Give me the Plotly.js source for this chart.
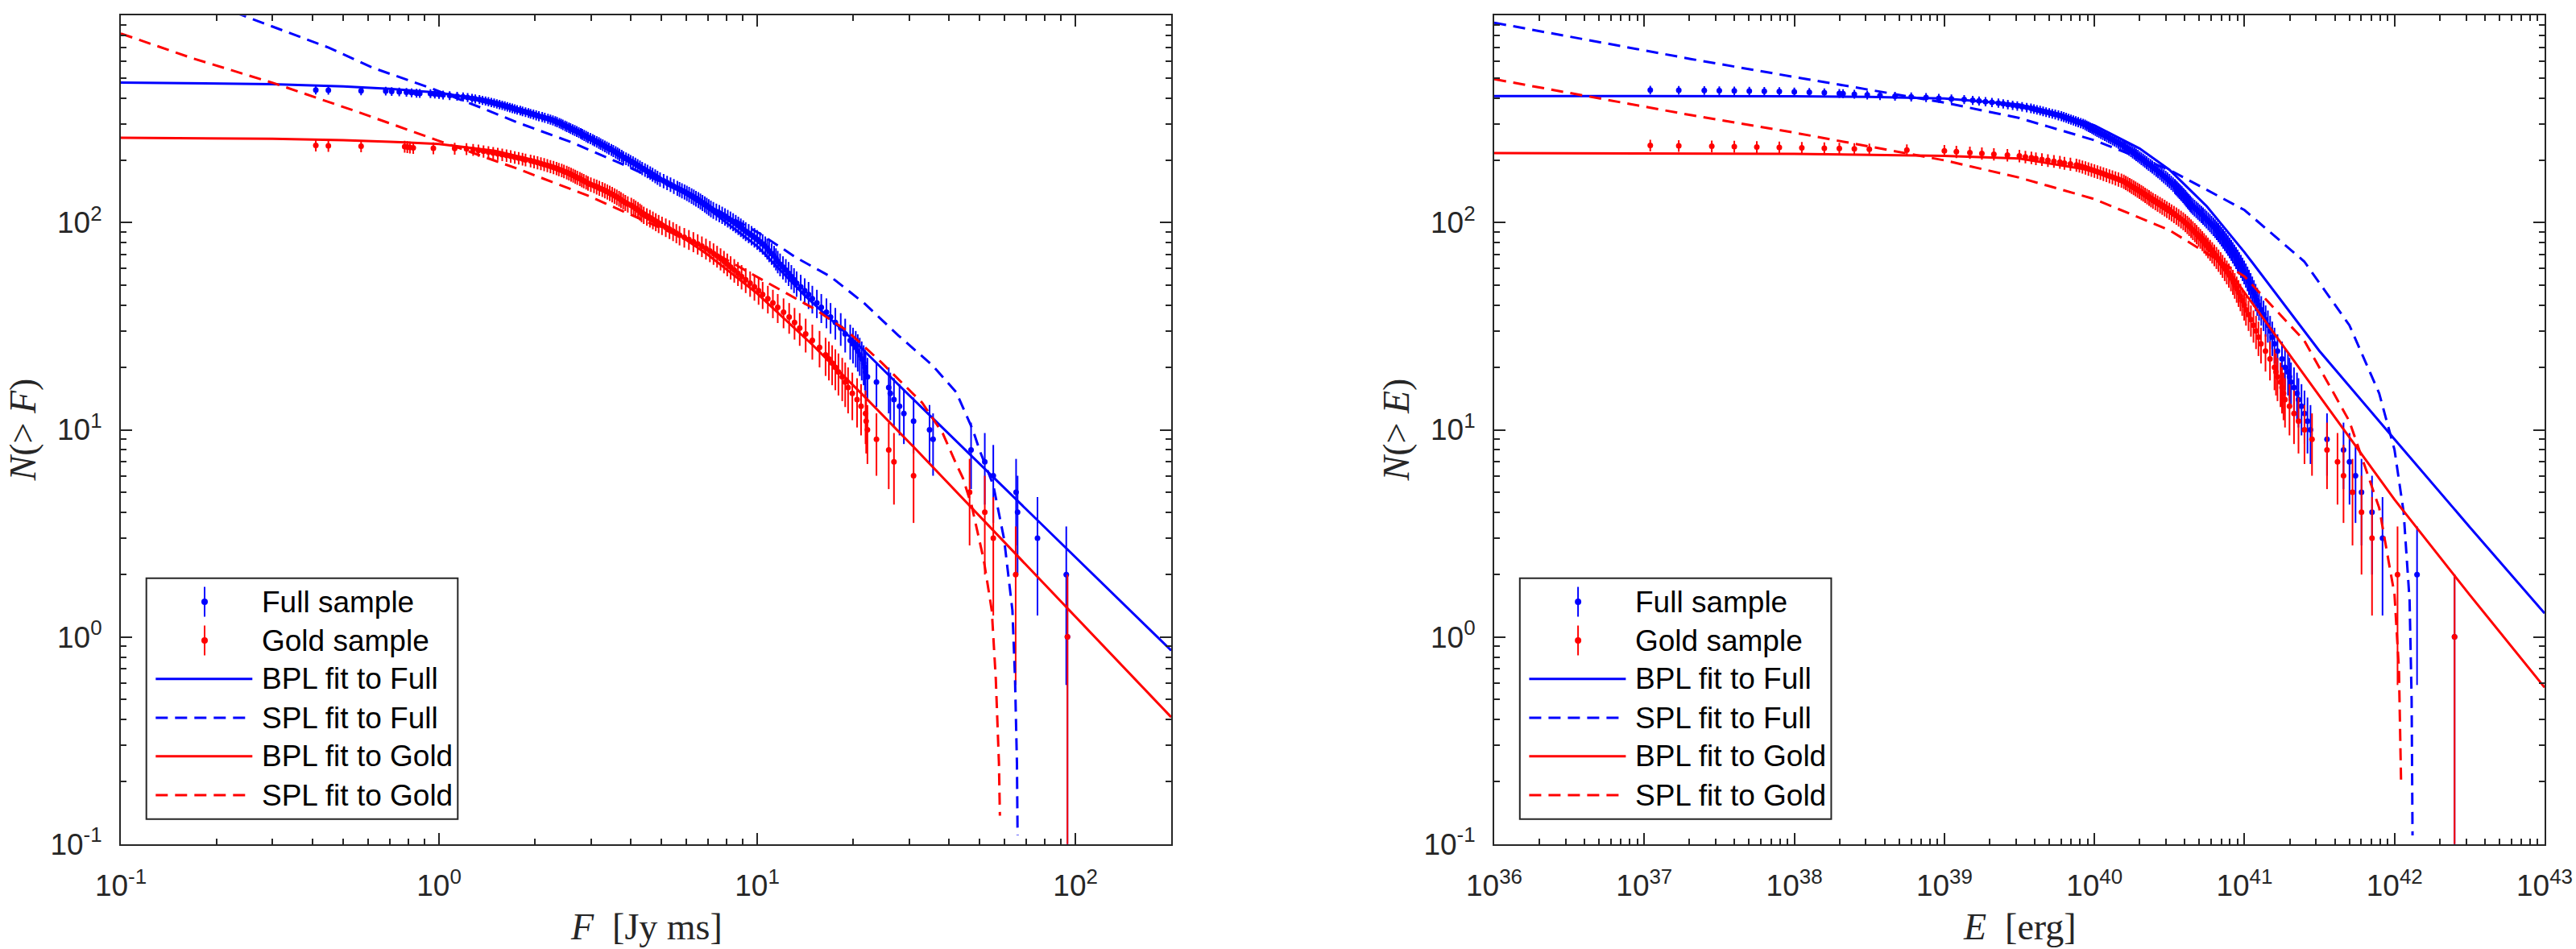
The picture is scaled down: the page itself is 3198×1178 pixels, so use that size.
<!DOCTYPE html>
<html>
<head>
<meta charset="utf-8">
<script src="https://cdn.plot.ly/plotly-3.0.1.min.js"></script>
<style>
  html, body { margin: 0; padding: 0; background: #ffffff; }
  #chart { width: 3198px; height: 1178px; }
</style>
</head>
<body>
<div id="chart"></div>
<script>
// ---------- Cumulative burst counts N(>F) versus fluence F (Jy ms) ----------
const fluFull = [
  0.41, 0.449, 0.569, 0.68, 0.71, 0.75, 0.79, 0.82, 0.85, 0.87, 0.94, 0.97, 1.0,
  1.03, 1.08, 1.14, 1.19, 1.23, 1.27, 1.30, 1.34,
  1.37, 1.40, 1.43, 1.46, 1.49, 1.52, 1.55, 1.58, 1.61, 1.64, 1.67, 1.70, 1.73,
  1.76, 1.80, 1.83, 1.87, 1.91, 1.94, 1.98, 2.02, 2.06, 2.11, 2.15, 2.20, 2.24,
  2.28, 2.32, 2.35, 2.39, 2.42, 2.45, 2.49, 2.52, 2.56,
  2.59, 2.63, 2.67, 2.71, 2.75, 2.79, 2.82, 2.86, 2.90,
  2.94, 2.99, 3.04, 3.08, 3.13, 3.18, 3.22, 3.27, 3.32,
  3.37, 3.42, 3.48, 3.53, 3.59, 3.64, 3.69, 3.75, 3.80,
  3.87, 3.94, 4.00, 4.07, 4.14, 4.21, 4.28, 4.35,
  4.44, 4.52, 4.61, 4.69, 4.78, 4.86, 4.95, 5.08, 5.21, 5.34, 5.47, 5.61,
  5.70, 5.80, 5.91, 6.01, 6.11, 6.22, 6.32, 6.42, 6.53, 6.63, 6.73, 6.84, 6.94, 7.04, 7.15,
  7.28, 7.44, 7.60, 7.76, 7.92, 8.08, 8.24, 8.40, 8.56, 8.72, 8.88, 9.04, 9.20,
  9.40, 9.60, 9.80, 10.0, 10.2, 10.4, 10.6, 10.75, 10.9, 11.1, 11.3, 11.45, 11.6, 11.8,
  12.05, 12.3, 12.55, 12.8, 13.05, 13.3, 13.7, 14.1, 14.5, 14.9, 15.4, 15.9, 16.5, 17.0,
  17.6, 18.3, 18.9, 19.6, 20.0, 20.4, 20.7,
  21.0, 21.3, 21.6, 21.8, 21.9, 22.2, 23.7, 25.9, 26.2, 26.9, 28.0, 28.9, 31.0, 34.8, 35.7,
  47.0, 51.9, 55.2, 65.1, 65.8, 76.0, 93.6, 94.4
];
const cntFullF = [
  437, 436, 433, 432, 430, 428, 426, 424, 422, 421, 420, 418, 416,
  414, 411, 408, 405, 402, 399, 396, 393,
  390, 387, 384, 381, 378, 375, 372, 369, 366, 363, 360, 357, 354,
  351, 348, 345, 342, 339, 336, 333, 330, 327, 324, 321, 318, 315,
  312, 309, 306, 303, 300, 297, 294, 291, 288,
  285, 282, 279, 276, 273, 270, 267, 264, 261,
  258, 255, 252, 249, 246, 243, 240, 237, 234,
  231, 228, 225, 222, 219, 216, 213, 210, 207,
  204, 201, 198, 195, 192, 189, 186, 183,
  180, 177, 174, 171, 168, 165, 162, 159, 156, 153, 150, 147,
  145, 143, 141, 139, 137, 135, 133, 131, 129, 127, 125, 123, 121, 119, 117,
  115, 113, 111, 109, 107, 105, 103, 101, 99, 97, 95, 93, 91,
  89, 87, 85, 83, 81, 79, 77, 75, 73, 71, 69, 67, 65, 63,
  61, 59, 57, 55, 53, 51, 49, 47, 45, 43, 41, 39, 37, 35,
  33, 31, 29, 27, 26, 25, 24,
  23, 22, 21, 20, 19, 18, 17, 16, 15, 14, 13, 12, 11, 10, 9,
  8, 7, 6, 5, 4, 3, 2, 1
];
const fluGold = [
  0.41, 0.449, 0.569, 0.78, 0.795, 0.81, 0.83, 0.96, 1.12, 1.22,
  1.28, 1.33, 1.38, 1.43, 1.48, 1.53, 1.58, 1.63, 1.68, 1.73, 1.78, 1.83, 1.87, 1.94, 1.99,
  2.04, 2.09, 2.14, 2.19, 2.24, 2.29, 2.34, 2.38, 2.43, 2.47, 2.52, 2.56, 2.60, 2.64, 2.68,
  2.72, 2.77, 2.81, 2.85, 2.90, 2.94, 3.00, 3.07, 3.13, 3.19, 3.26, 3.32, 3.38, 3.44, 3.50,
  3.56, 3.62, 3.68, 3.73, 3.79, 3.85, 3.92, 4.02, 4.09, 4.15, 4.22, 4.28, 4.33, 4.40, 4.50,
  4.60, 4.70, 4.80, 4.90, 5.02, 5.16, 5.30, 5.44, 5.57, 5.70, 5.90, 6.10, 6.30, 6.50, 6.70,
  6.90, 7.10, 7.29, 7.48, 7.67, 7.86, 8.05, 8.25, 8.47, 8.70, 8.93, 9.20, 9.50, 9.80, 10.1,
  10.4, 10.8, 11.2, 11.6, 12.1, 12.6, 13.1, 13.6, 14.2, 14.9, 15.7, 16.4,
  16.8, 17.2, 17.6, 18.0, 18.5, 18.9, 19.3, 19.9, 20.6, 21.2, 21.9, 22.0, 22.2,
  23.7, 25.9, 26.9, 31.0, 46.5, 51.9, 55.2, 64.9, 94.4
];
const cntGoldF = [
  236, 235, 234, 233, 232, 231, 230, 229, 228, 227,
  225, 223, 221, 219, 217, 215, 213, 211, 209, 207, 205, 203, 201, 199, 197,
  195, 193, 191, 189, 187, 185, 183, 181, 179, 177, 175, 173, 171, 169, 167,
  165, 163, 161, 159, 157, 155, 153, 151, 149, 147, 145, 143, 141, 139, 137,
  135, 133, 131, 129, 127, 125, 123, 121, 119, 117, 115, 113, 111, 109, 107,
  105, 103, 101, 99, 97, 95, 93, 91, 89, 87, 85, 83, 81, 79, 77,
  75, 73, 71, 69, 67, 65, 63, 61, 59, 57, 55, 53, 51, 49, 47,
  45, 43, 41, 39, 37, 35, 33, 31, 29, 27, 25, 23,
  22, 21, 20, 19, 18, 17, 16, 15, 14, 13, 12, 11, 10,
  9, 8, 7, 6, 5, 4, 3, 2, 1
];

// Fitted models on the fluence panel
const bplFullF_x = [0.1, 0.2, 0.3, 0.5, 0.7, 1, 1.5, 2, 3, 4, 5, 7, 10, 14, 20, 30, 50, 100, 200];
const bplFullF_y = [475, 471, 466, 455, 443, 424, 384, 338, 258, 202, 163, 117, 77, 45, 27.2, 14.7, 6.85, 2.42, 0.86];
const splFullF_x = [0.2, 0.3, 0.45, 0.618, 0.937, 1.35, 1.75, 2.58, 3.82, 4.95, 7, 10.2, 13.3, 17, 21.7, 27.8, 35.5, 42.2, 45.4, 47.6, 50.1, 55.2, 59.7, 63.4, 64.6, 65.5, 65.8];
const splFullF_y = [1117, 882, 700, 560, 448, 360, 306, 246, 190, 158, 122, 88.5, 67.6, 54.9, 40.8, 28.5, 20.5, 15.2, 11.8, 10, 7.9, 5.4, 2.96, 1.34, 0.63, 0.246, 0.11];
const bplGoldF_x = [0.1, 0.2, 0.3, 0.5, 0.7, 1, 1.5, 2, 3, 4, 5, 7, 10, 15, 22, 31.4, 46.5, 94.4, 200];
const bplGoldF_y = [257, 256, 254, 250, 246, 240, 222, 200, 154, 123, 100, 70, 45.5, 25.5, 14.2, 8.1, 4.31, 1.37, 0.41];
const splGoldF_x = [0.1, 0.168, 0.306, 0.557, 0.986, 1.75, 2.94, 3.82, 5.5, 7.5, 11.2, 15.1, 19.2, 24.6, 33, 38.3, 42.1, 44.3, 47.2, 51.5, 54.6, 56.2, 57.5, 57.9];
const splGoldF_y = [819, 622, 469, 342, 250, 183, 135, 113, 88, 70, 49.5, 38.4, 30, 21.1, 13.5, 9.6, 6.9, 5.85, 4.3, 2.36, 1.34, 0.63, 0.246, 0.137];

// ---------- Cumulative burst counts N(>E) versus energy E ----------
// burst energies are listed as log10(E / erg)
const logEFull = [
  37.04, 37.23, 37.40, 37.50, 37.60, 37.70, 37.80, 37.90, 38.00, 38.10, 38.20, 38.30,
  38.325, 38.40, 38.486, 38.571, 38.671, 38.779, 38.878, 38.963, 39.047, 39.132,
  39.189, 39.231, 39.274, 39.317, 39.36, 39.392, 39.423, 39.455, 39.486, 39.518,
  39.549, 39.577, 39.597, 39.617, 39.638, 39.658, 39.678, 39.699, 39.719, 39.739,
  39.760, 39.78, 39.796, 39.812, 39.828, 39.844, 39.860, 39.876, 39.892, 39.909,
  39.925, 39.938, 39.949, 39.961, 39.972, 39.984, 39.995, 40.007, 40.018, 40.03,
  40.043, 40.056, 40.069, 40.082, 40.095, 40.108, 40.121, 40.134, 40.147, 40.160,
  40.173, 40.186, 40.198, 40.209, 40.221, 40.232, 40.244, 40.255, 40.267, 40.278,
  40.290, 40.302, 40.313, 40.325, 40.336, 40.348, 40.361, 40.374, 40.386, 40.399,
  40.412, 40.424, 40.437, 40.449, 40.462, 40.475, 40.487, 40.50, 40.512, 40.524,
  40.536,
  40.543, 40.551, 40.559, 40.567, 40.575, 40.583, 40.591, 40.599, 40.607, 40.614,
  40.622, 40.630, 40.638, 40.646, 40.656, 40.667, 40.679, 40.690, 40.701, 40.713,
  40.724, 40.736, 40.747, 40.759, 40.770, 40.781, 40.793, 40.804, 40.815, 40.826,
  40.837, 40.848, 40.858, 40.869, 40.880, 40.890, 40.901, 40.912, 40.922, 40.933,
  40.944, 40.955, 40.965, 40.976, 40.987, 40.998, 41.009, 41.020, 41.030, 41.041,
  41.052, 41.063, 41.074, 41.085, 41.097, 41.112, 41.127, 41.141, 41.156, 41.171,
  41.185, 41.20,
  41.22, 41.25, 41.27, 41.29, 41.30, 41.31, 41.33, 41.35, 41.36, 41.38, 41.40,
  41.42, 41.44, 41.55, 41.66, 41.70, 41.74, 41.78, 41.85, 41.92, 42.15, 42.40
];
const cntFullE = [
  437, 436, 435, 434, 433, 432, 431, 430, 428, 426, 424, 421,
  420, 417, 414, 411, 408, 405, 402, 399, 396, 393,
  390, 387, 384, 381, 378, 375, 372, 369, 366, 363,
  360, 357, 354, 351, 348, 345, 342, 339, 336, 333,
  330, 327, 324, 321, 318, 315, 312, 309, 306, 303,
  300, 297, 294, 291, 288, 285, 282, 279, 276, 273,
  270, 267, 264, 261, 258, 255, 252, 249, 246, 243,
  240, 237, 234, 231, 228, 225, 222, 219, 216, 213,
  210, 207, 204, 201, 198, 195, 192, 189, 186, 183,
  180, 177, 174, 171, 168, 165, 162, 159, 156, 153,
  150,
  148, 146, 144, 142, 140, 138, 136, 134, 132, 130,
  128, 126, 124, 122, 120, 118, 116, 114, 112, 110,
  108, 106, 104, 102, 100, 98, 96, 94, 92, 90,
  88, 86, 84, 82, 80, 78, 76, 74, 72, 70,
  68, 66, 64, 62, 60, 58, 56, 54, 52, 50,
  48, 46, 44, 42, 40, 38, 36, 34, 32, 30,
  28, 26,
  24, 22, 20, 19, 18, 17, 16, 15, 14, 13, 12,
  11, 10, 9, 8, 7, 6, 5, 4, 3, 2, 1
];
const logEGold = [
  37.04, 37.23, 37.45, 37.60, 37.75, 37.90, 38.05, 38.20, 38.30, 38.40,
  38.5, 38.75, 39.0, 39.08, 39.17, 39.25, 39.33, 39.42, 39.5, 39.54,
  39.58, 39.61, 39.65, 39.69, 39.73, 39.77, 39.80, 39.84, 39.88, 39.90,
  39.92, 39.94, 39.96, 39.98, 40.00, 40.02, 40.04, 40.06, 40.08, 40.10,
  40.12, 40.14, 40.16, 40.18, 40.196, 40.209, 40.222, 40.235, 40.248, 40.261,
  40.274, 40.287, 40.300, 40.313, 40.325, 40.338, 40.351, 40.364, 40.377, 40.39,
  40.406, 40.421, 40.437, 40.452, 40.468, 40.483, 40.499, 40.514, 40.530, 40.546,
  40.561, 40.577, 40.592, 40.606, 40.619, 40.631, 40.644, 40.656, 40.669, 40.681,
  40.694, 40.706, 40.719, 40.731, 40.744, 40.757, 40.771, 40.785, 40.799, 40.813,
  40.827, 40.841, 40.854, 40.868, 40.882, 40.896, 40.91, 40.923, 40.935, 40.948,
  40.960, 40.973, 40.985, 40.998, 41.01, 41.027, 41.043, 41.06, 41.077, 41.093,
  41.11,
  41.14, 41.17, 41.20, 41.21, 41.22, 41.24, 41.25, 41.26, 41.27, 41.30, 41.33,
  41.36, 41.40, 41.45, 41.55, 41.62, 41.66, 41.72, 41.78, 41.85, 42.02, 42.40
];
const cntGoldE = [
  236, 235, 234, 233, 232, 231, 230, 229, 228, 227,
  226, 224, 222, 220, 218, 216, 214, 212, 210, 208,
  206, 204, 202, 200, 198, 196, 194, 192, 190, 188,
  186, 184, 182, 180, 178, 176, 174, 172, 170, 168,
  166, 164, 162, 160, 158, 156, 154, 152, 150, 148,
  146, 144, 142, 140, 138, 136, 134, 132, 130, 128,
  126, 124, 122, 120, 118, 116, 114, 112, 110, 108,
  106, 104, 102, 100, 98, 96, 94, 92, 90, 88,
  86, 84, 82, 80, 78, 76, 74, 72, 70, 68,
  66, 64, 62, 60, 58, 56, 54, 52, 50, 48,
  46, 44, 42, 40, 38, 36, 34, 32, 30, 28,
  26,
  24, 22, 20, 19, 18, 17, 16, 15, 14, 13, 12,
  11, 10, 9, 8, 7, 6, 5, 4, 3, 2, 1
];

// Fitted models on the energy panel (E in erg)
const bplFullE_x = [1e36, 1e37, 1e38, 3.16e38, 1e39, 3.16e39, 6.3e39, 1e40, 2e40, 3.16e40, 5.6e40, 1e41, 3.16e41, 1e42, 3.16e42, 1e43];
const bplFullE_y = [409, 409, 408, 405, 398, 372, 330, 295, 228, 180, 120, 72, 24, 9.0, 3.4, 1.3];
const splFullE_x = [1e36, 2.07e37, 1e38, 1e39, 3.16e39, 1e40, 3.16e40, 1e41, 2.5e41, 5e41, 7.9e41, 1e42, 1.15e42, 1.26e42, 1.3e42, 1.318e42];
const splFullE_y = [923, 616, 505, 380, 320, 250, 180, 115, 65, 32, 15, 8, 4, 1.5, 0.5, 0.11];
const bplGoldE_x = [1e36, 1e38, 1e39, 3.16e39, 1e40, 2e40, 3.16e40, 5.6e40, 1e41, 3.16e41, 1e42, 3.16e42, 1e43];
const bplGoldE_y = [217, 215, 210, 204, 178, 145, 118, 82, 46, 14.5, 4.6, 1.6, 0.57];
const splGoldE_x = [1e36, 2.07e37, 1e38, 1e39, 3.16e39, 1e40, 3.16e40, 1e41, 2.5e41, 5e41, 7.9e41, 1e42, 1.07e42, 1.107e42];
const splGoldE_y = [493, 330, 272, 200, 165, 130, 92, 55, 27, 11, 4.2, 1.6, 0.7, 0.189];

// ---------- Styling ----------
const AXC = '#262626';
const BLUE = '#0000ff';
const RED = '#ff0000';
const SANS = 'Liberation Sans, Arial, Helvetica, sans-serif';
const SERIF = 'Liberation Serif, Times New Roman, serif';
const DASH = '15px,9px';
const W = 3198, H = 1178;
const px = v => v / W;           // pixel column -> paper x
const py = v => (H - v) / H;     // pixel row -> paper y

function powLabels(lo, hi) {
  const vals = [], text = [];
  for (let p = lo; p <= hi; p++) {
    vals.push(Math.pow(10, p));
    text.push('10<sup>' + p + '</sup>');
  }
  return { vals, text };
}

function logAxis(range, domain, anchor, labels, standoff) {
  return {
    type: 'log', range, domain, anchor,
    showline: true, linecolor: AXC, linewidth: 2, mirror: 'ticks',
    ticks: 'inside', ticklen: 14, tickwidth: 2, tickcolor: AXC,
    tickmode: 'array', tickvals: labels.vals, ticktext: labels.text,
    ticklabelstandoff: standoff,
    minor: { ticks: 'inside', ticklen: 7, tickwidth: 2, tickcolor: AXC, dtick: 'D1', showgrid: false },
    showgrid: false, zeroline: false,
    tickfont: { family: SANS, size: 37, color: AXC }
  };
}

function errTrace(x, n, color, name, xa, ya) {
  return {
    type: 'scatter', mode: 'markers', name, x, y: n,
    xaxis: xa, yaxis: ya, showlegend: false,
    marker: { color, size: 7, symbol: 'circle' },
    error_y: {
      type: 'data', symmetric: false,
      array: n.map(v => Math.sqrt(v)),
      arrayminus: n.map(v => Math.min(Math.sqrt(v), v - 0.01)),
      color, thickness: 2, width: 0
    }
  };
}

function fitTrace(x, y, color, dash, name, xa, ya) {
  return {
    type: 'scatter', mode: 'lines', name, x, y,
    xaxis: xa, yaxis: ya, showlegend: false,
    line: { color, width: 3, dash }
  };
}

const toErg = a => a.map(v => Math.pow(10, v));

const traces = [
  errTrace(fluFull, cntFullF, BLUE, 'Full sample', 'x', 'y'),
  errTrace(fluGold, cntGoldF, RED, 'Gold sample', 'x', 'y'),
  fitTrace(bplFullF_x, bplFullF_y, BLUE, 'solid', 'BPL fit to Full', 'x', 'y'),
  fitTrace(splFullF_x, splFullF_y, BLUE, DASH, 'SPL fit to Full', 'x', 'y'),
  fitTrace(bplGoldF_x, bplGoldF_y, RED, 'solid', 'BPL fit to Gold', 'x', 'y'),
  fitTrace(splGoldF_x, splGoldF_y, RED, DASH, 'SPL fit to Gold', 'x', 'y'),

  errTrace(toErg(logEFull), cntFullE, BLUE, 'Full sample', 'x2', 'y2'),
  errTrace(toErg(logEGold), cntGoldE, RED, 'Gold sample', 'x2', 'y2'),
  fitTrace(bplFullE_x, bplFullE_y, BLUE, 'solid', 'BPL fit to Full', 'x2', 'y2'),
  fitTrace(splFullE_x, splFullE_y, BLUE, DASH, 'SPL fit to Full', 'x2', 'y2'),
  fitTrace(bplGoldE_x, bplGoldE_y, RED, 'solid', 'BPL fit to Gold', 'x2', 'y2'),
  fitTrace(splGoldE_x, splGoldE_y, RED, DASH, 'SPL fit to Gold', 'x2', 'y2')
];

// ---------- Legend boxes (one per panel) ----------
const legendNames = ['Full sample', 'Gold sample', 'BPL fit to Full', 'SPL fit to Full', 'BPL fit to Gold', 'SPL fit to Gold'];
const legendRows = [747, 795, 842.7, 891, 938.7, 987];
const shapes = [];
const annotations = [];

function addLegend(left) {
  shapes.push({
    type: 'rect', xref: 'paper', yref: 'paper', layer: 'above',
    x0: px(left), x1: px(left + 386.6), y0: py(1016.7), y1: py(717.7),
    fillcolor: '#ffffff', line: { color: AXC, width: 2 }
  });
  const cx = left + 72.3;
  // error-bar samples
  [[BLUE, legendRows[0]], [RED, legendRows[1]]].forEach(([c, y]) => {
    shapes.push({
      type: 'line', xref: 'paper', yref: 'paper', layer: 'above',
      x0: px(cx), x1: px(cx), y0: py(y - 18.5), y1: py(y + 18.5),
      line: { color: c, width: 2 }
    });
    shapes.push({
      type: 'circle', xref: 'paper', yref: 'paper', layer: 'above',
      xsizemode: 'pixel', ysizemode: 'pixel', xanchor: px(cx), yanchor: py(y),
      x0: -4, x1: 4, y0: -4, y1: 4, fillcolor: c, line: { width: 0 }
    });
  });
  // line samples
  [[BLUE, 'solid'], [BLUE, DASH], [RED, 'solid'], [RED, DASH]].forEach(([c, d], i) => {
    const y = legendRows[i + 2];
    shapes.push({
      type: 'line', xref: 'paper', yref: 'paper', layer: 'above',
      x0: px(left + 11.6), x1: px(left + 131.6), y0: py(y), y1: py(y),
      line: { color: c, width: 3, dash: d }
    });
  });
  legendNames.forEach((t, i) => {
    annotations.push({
      xref: 'paper', yref: 'paper', x: px(left + 141), y: py(legendRows[i]),
      xanchor: 'left', yanchor: 'middle', showarrow: false, text: t,
      font: { family: SANS, size: 37, color: '#000000' }
    });
  });
}
addLegend(181.7);
addLegend(1886.8);

function axisTitle(text, xPx, yPx, angle) {
  annotations.push({
    xref: 'paper', yref: 'paper', x: px(xPx), y: py(yPx),
    xanchor: 'center', yanchor: 'middle', showarrow: false,
    text, textangle: angle || 0,
    font: { family: SERIF, size: 46, color: AXC }
  });
}
axisTitle('<i>N</i>(&gt; <i>F</i>)', 28, 533.5, -90);
axisTitle('<i>F</i>&nbsp;&nbsp;[Jy&nbsp;ms]', 802, 1150);
axisTitle('<i>N</i>(&gt; <i>E</i>)', 1733, 533.5, -90);
axisTitle('<i>E</i>&nbsp;&nbsp;[erg]', 2507, 1150);

const yDom = [(H - 1047.7) / H, (H - 19.3) / H];
const layout = {
  width: W, height: H, autosize: false,
  margin: { l: 0, r: 0, t: 0, b: 0, pad: 0 },
  paper_bgcolor: '#ffffff', plot_bgcolor: '#ffffff',
  showlegend: false,
  xaxis: logAxis([-1, Math.log10(200)], [px(150), px(1454)], 'y', powLabels(-1, 2), 18),
  yaxis: logAxis([-1, 3], yDom, 'x', powLabels(-1, 3), 14),
  xaxis2: logAxis([36, 43], [px(1855), px(3159)], 'y2', powLabels(36, 43), 18),
  yaxis2: logAxis([-1, 3], yDom, 'x2', powLabels(-1, 3), 14),
  shapes, annotations
};

Plotly.newPlot('chart', traces, layout, { staticPlot: true, displayModeBar: false });
</script>
</body>
</html>
